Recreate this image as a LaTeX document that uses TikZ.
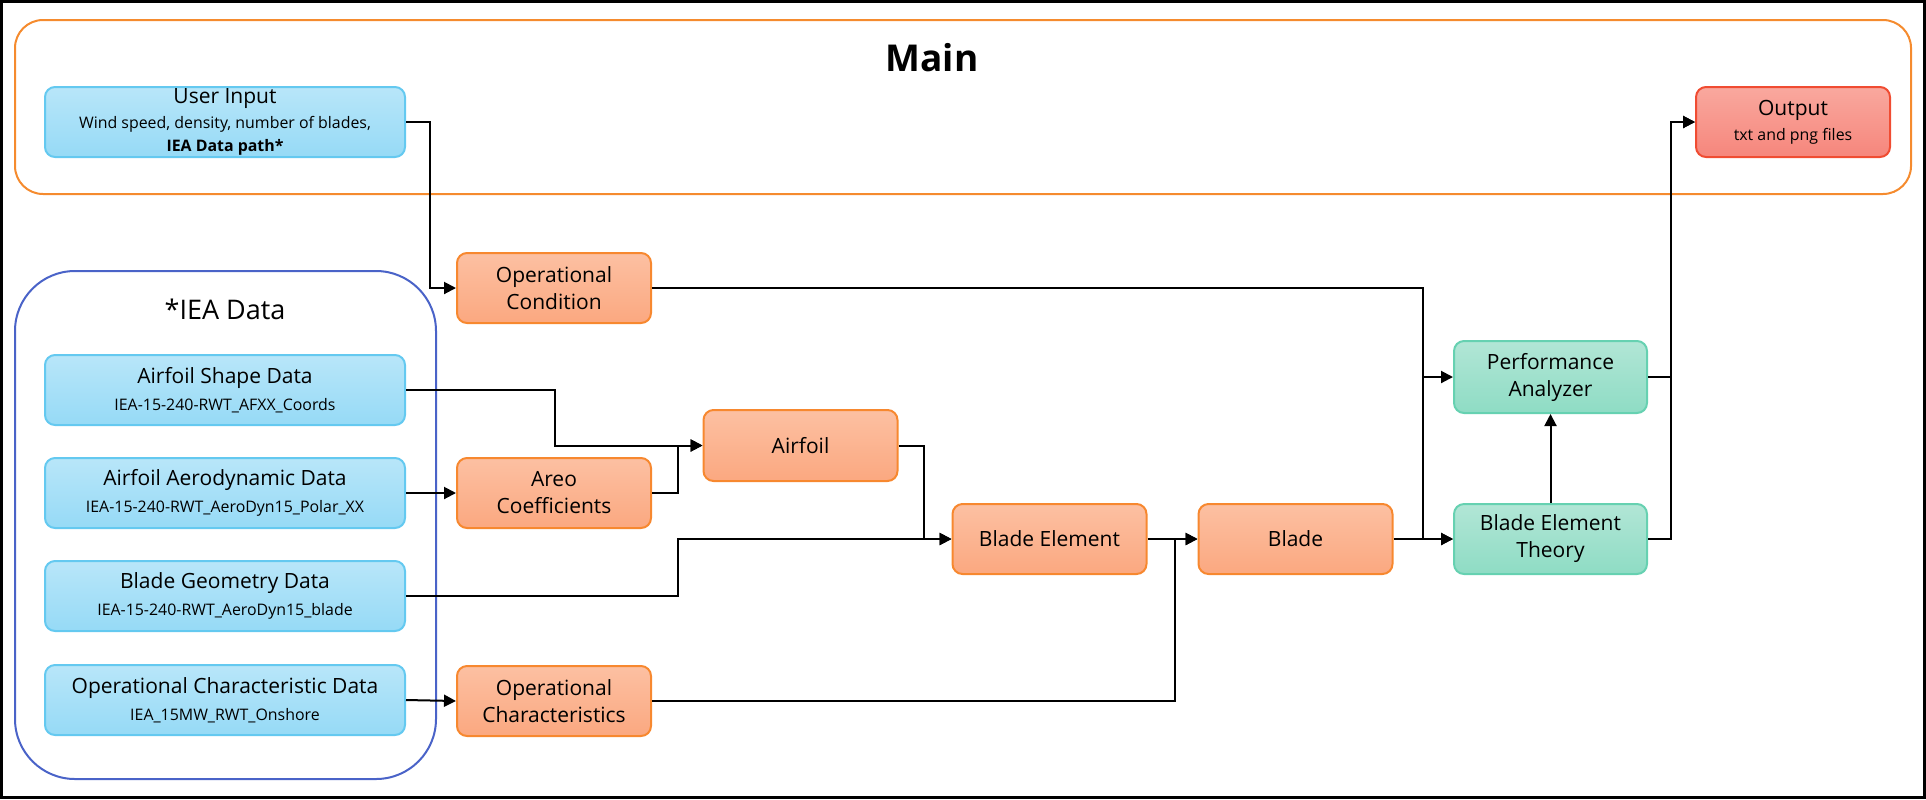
\documentclass[tikz,border=0pt]{standalone}
\usepackage{fontspec}
\setmainfont{Open Sans}
\usetikzlibrary{arrows.meta}
\definecolor{blueT}{RGB}{184,230,249}
\definecolor{blueB}{RGB}{150,218,246}
\definecolor{blueD}{RGB}{100,201,240}
\definecolor{orT}{RGB}{252,192,162}
\definecolor{orB}{RGB}{251,168,128}
\definecolor{orD}{RGB}{247,136,47}
\definecolor{grT}{RGB}{178,230,214}
\definecolor{grB}{RGB}{142,220,196}
\definecolor{grD}{RGB}{102,209,177}
\definecolor{rdT}{RGB}{249,168,158}
\definecolor{rdB}{RGB}{246,134,124}
\definecolor{rdD}{RGB}{240,76,50}
\definecolor{mainD}{RGB}{245,139,46}
\definecolor{ieaD}{RGB}{74,99,200}
\newcommand\ftA{\fontsize{10.5}{13.5}\selectfont}
\newcommand\ftB{\fontsize{7.95}{11.5}\selectfont}
\tikzset{
  box/.style={draw, line width=1pt, rounded corners=5pt, shading=axis, align=center, inner sep=0pt, font=\ftA},
  bluebox/.style={box, draw=blueD, top color=blueT, bottom color=blueB, minimum width=180pt, minimum height=35pt},
  orbox/.style={box, draw=orD, top color=orT, bottom color=orB, minimum width=97pt, minimum height=35pt},
  grbox/.style={box, draw=grD, top color=grT, bottom color=grB, minimum width=96.5pt, minimum height=35pt},
  rdbox/.style={box, draw=rdD, top color=rdT, bottom color=rdB, minimum width=97pt, minimum height=35pt},
  conn/.style={draw=black, line width=1pt, -{Triangle[length=6pt,width=6pt]}},
}
\begin{document}
\begin{tikzpicture}[x=0.5pt,y=-0.5pt]
\useasboundingbox (0,0) rectangle (1926,799);
\draw[line width=1.5pt] (1.5,1.5) rectangle (1924.5,797.5);
% containers
\draw[mainD, line width=1pt, rounded corners=14pt] (15,20) rectangle (1911,194);
\node[font=\fontsize{18.5}{23}\selectfont\bfseries] (maint) at (932,58) {Main};
\draw[ieaD, line width=1pt, rounded corners=30pt] (15,271) rectangle (436,779);
\node[font=\fontsize{13.5}{17}\selectfont] (ieat) at (225,309) {*IEA Data};
% boxes
\node[bluebox] (user) at (225,122) {User Input\\[-1pt]{\ftB Wind speed, density, number of blades,}\\[-2pt]{\ftB\bfseries IEA Data path*}};
\node[rdbox] (out) at (1793,122) {Output\\[-1pt]{\ftB txt and png files}};
\node[bluebox] (afs) at (225,390) {Airfoil Shape Data\\[0pt]{\ftB IEA-15-240-RWT\_AFXX\_Coords}};
\node[bluebox] (afa) at (225,493) {Airfoil Aerodynamic Data\\[0pt]{\ftB IEA-15-240-RWT\_AeroDyn15\_Polar\_XX}};
\node[bluebox] (bg) at (225,596) {Blade Geometry Data\\[0pt]{\ftB IEA-15-240-RWT\_AeroDyn15\_blade}};
\node[bluebox] (ocd) at (225,700) {Operational Characteristic Data\\[0pt]{\ftB IEA\_15MW\_RWT\_Onshore}};
\node[orbox] (opc) at (554,288) {Operational\\Condition};
\node[orbox] (areo) at (554,493) {Areo\\Coefficients};
\node[orbox] (opch) at (554,701) {Operational\\Characteristics};
\node[orbox, minimum height=35.5pt] (air) at (800.5,445.5) {Airfoil};
\node[orbox] (be) at (1049.5,539) {Blade Element};
\node[orbox] (blade) at (1295.5,539) {Blade};
\node[grbox, minimum height=36pt] (pa) at (1550.5,377) {Performance\\Analyzer};
\node[grbox] (bet) at (1550.5,539) {Blade Element\\Theory};
% lanes
\coordinate (l1) at (430,0);
\coordinate (l2) at (1423,0);
\coordinate (l3) at (555,0);
\coordinate (l4) at (678,0);
\coordinate (l5) at (924,0);
\coordinate (l6) at (1175,0);
\coordinate (l7) at (1671,0);
% connectors
\draw[conn] (user.east) -- (user.east -| l1) -- (l1 |- opc.west) -- (opc.west);
\draw[conn] (opc.east) -- (opc.east -| l2) -- (l2 |- pa.west) -- (pa.west);
\draw[conn] (opc.east) -- (opc.east -| l2) -- (l2 |- bet.west) -- (bet.west);
\draw[conn] (afs.east) -- (afs.east -| l3) -- (l3 |- air.west) -- (air.west);
\draw[conn] (afa.east) -- (areo.west);
\draw[conn] (areo.east) -- (areo.east -| l4) -- (l4 |- air.west) -- (air.west);
\draw[conn] (air.east) -- (air.east -| l5) -- (l5 |- be.west) -- (be.west);
\draw[conn] (bg.east) -- (bg.east -| l4) -- (l4 |- be.west) -- (be.west);
\draw[conn] (ocd.east) -- (opch.west);
\draw[conn] (opch.east) -- (opch.east -| l6) -- (l6 |- blade.west) -- (blade.west);
\draw[conn] (be.east) -- (blade.west);
\draw[conn] (blade.east) -- (bet.west);
\draw[conn] (bet.north) -- (pa.south);
\draw[conn] (pa.east) -- (pa.east -| l7) -- (l7 |- out.west) -- (out.west);
\draw[conn] (bet.east) -- (bet.east -| l7) -- (l7 |- out.west) -- (out.west);
\end{tikzpicture}
\end{document}
